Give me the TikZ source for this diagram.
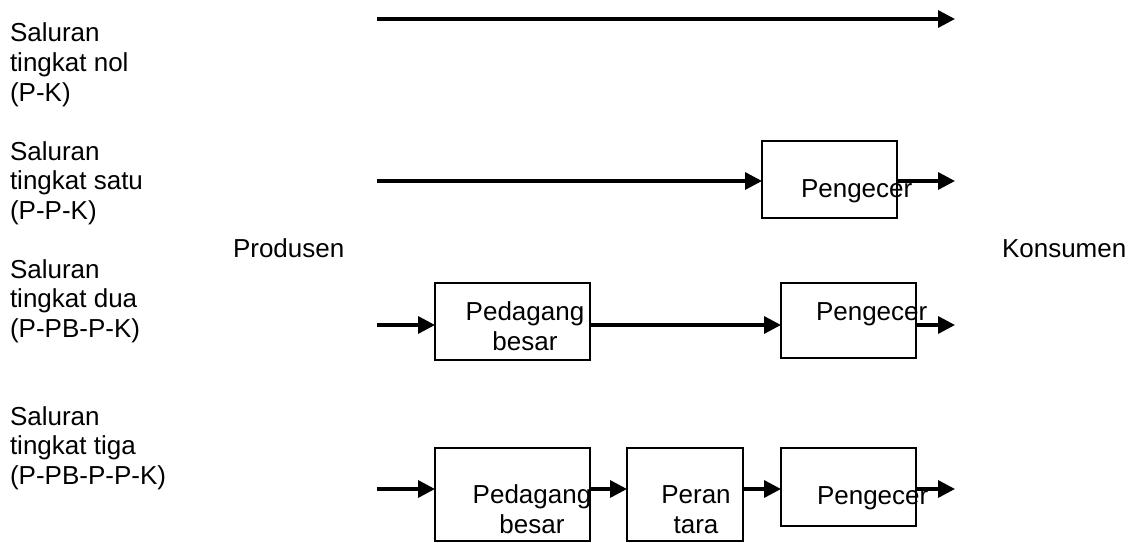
\documentclass[tikz,border=0pt]{standalone}
\usepackage{fontspec}
\setmainfont{Liberation Sans}
\usetikzlibrary{arrows.meta}
\begin{document}
\begin{tikzpicture}[x=1pt,y=-1pt,
  every node/.style={inner sep=0pt,outer sep=0pt,font=\fontsize{26}{29.5}\selectfont},
  lbl/.style={anchor=base west,align=left},
  box/.style={draw,line width=2pt,rectangle},
  arr/.style={line width=3.4pt,-{Triangle[length=17pt,width=17pt]}}]
\useasboundingbox (0,0) rectangle (1132,543);
% left labels (anchor at the baseline of the last line)
\node[lbl] (t1) at (10,101) {Saluran\\tingkat nol\\(P-K)};
\node[lbl] (t2) at (10,219) {Saluran\\tingkat satu\\(P-P-K)};
\node[lbl] (t3) at (10,337) {Saluran\\tingkat dua\\(P-PB-P-K)};
\node[lbl] (t4) at (10,484) {Saluran\\tingkat tiga\\(P-PB-P-P-K)};
\node[anchor=base west] (prod) at (233,257) {Produsen};
\node[anchor=base west] (kons) at (1002,257) {Konsumen};
% row 1
\coordinate (a1) at (377,19);
\coordinate (b1) at (955,19);
\draw[arr] (a1) -- (b1);
% row 2
\node[box,minimum width=135pt,minimum height=77pt] (r2p) at (829.5,179.5) {};
\node[anchor=base west] (r2pt) at (801,197) {Pengecer};
\coordinate (a2) at (377,181);
\coordinate (b2) at (955,181);
\draw[arr] (a2) -- (a2 -| r2p.west);
\draw[arr] (a2 -| r2p.east) -- (b2);
% row 3
\node[box,minimum width=155pt,minimum height=77pt] (r3b) at (512.5,321.5) {};
\node[anchor=base,align=center] (r3bt) at (525,350) {Pedagang\\besar};
\node[box,minimum width=135pt,minimum height=75pt] (r3p) at (848.5,320.5) {};
\node[anchor=base west] (r3pt) at (816,320) {Pengecer};
\coordinate (a3) at (377,325);
\coordinate (b3) at (955,325);
\draw[arr] (a3) -- (a3 -| r3b.west);
\draw[arr] (a3 -| r3b.east) -- (a3 -| r3p.west);
\draw[arr] (a3 -| r3p.east) -- (b3);
% row 4
\node[box,minimum width=155pt,minimum height=93pt] (r4b) at (512.5,494.5) {};
\node[anchor=base,align=center] (r4bt) at (532,533) {Pedagang\\besar};
\node[box,minimum width=116pt,minimum height=93pt] (r4r) at (685,494.5) {};
\node[anchor=base,align=center] (r4rt) at (696,533) {Peran\\tara};
\node[box,minimum width=135pt,minimum height=78pt] (r4p) at (848.5,487) {};
\node[anchor=base west] (r4pt) at (817,504) {Pengecer};
\coordinate (a4) at (377,489);
\coordinate (b4) at (955,489);
\draw[arr] (a4) -- (a4 -| r4b.west);
\draw[arr] (a4 -| r4b.east) -- (a4 -| r4r.west);
\draw[arr] (a4 -| r4r.east) -- (a4 -| r4p.west);
\draw[arr] (a4 -| r4p.east) -- (b4);
\end{tikzpicture}
\end{document}
